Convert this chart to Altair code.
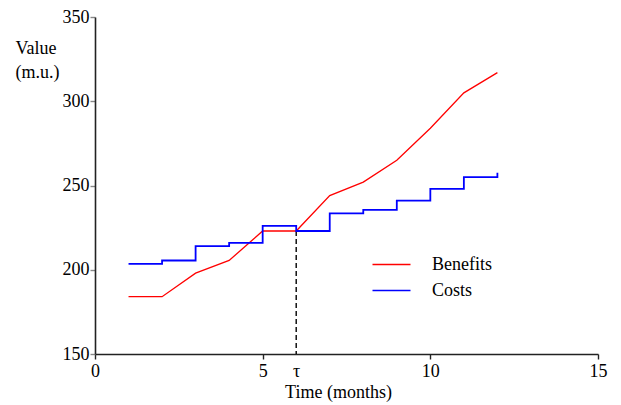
import altair as alt
import pandas as pd

months = [1, 2, 3, 4, 5, 6, 7, 8, 9, 10, 11, 12]
benefits = [184, 184, 198, 205.5, 223, 223, 244, 252, 265, 284, 305, 317]
costs = [203.5, 205.5, 214, 216, 226, 223, 233.5, 235.5, 241, 248, 255, 257.5]
tau = 6
tau_value = 223
x_ticks = [0, 5, 6, 10, 15]
y_ticks = [150, 200, 250, 300, 350]

FONT = "Liberation Serif"

df = pd.DataFrame({
    "t": months * 2,
    "v": benefits + costs,
    "series": ["Benefits"] * len(months) + ["Costs"] * len(months),
})
df_tau = pd.DataFrame({"t": [tau], "v": [tau_value], "v0": [150]})

xscale = alt.Scale(domain=[0, 15], nice=False, zero=False)
yscale = alt.Scale(domain=[150, 350], nice=False, zero=False)

xaxis = alt.Axis(
    values=x_ticks,
    labelExpr="datum.value == 6 ? 'τ' : datum.label",
    title="Time (months)",
    titleX=243,
    titlePadding=3,
    tickColor={"condition": {"test": "datum.value == 6", "value": "transparent"}, "value": "#222"},
    grid=False,
    labelPadding=3,
    labelFlush=False,
)
yaxis = alt.Axis(
    values=y_ticks,
    title=["Value", "(m.u.)"],
    titleAngle=0,
    titleAlign="left",
    titleBaseline="alphabetic",
    titleX=-80,
    titleY=36,
    titleLineHeight=24,
    grid=False,
    labelPadding=1,
    labelFlush=False,
)

dash = alt.Chart(df_tau).mark_rule(color="#000", strokeDash=[5, 3], strokeWidth=1.4).encode(
    x=alt.X("t:Q", scale=xscale, axis=xaxis),
    y=alt.Y("v:Q", scale=yscale, axis=yaxis),
    y2="v0:Q",
)
red = alt.Chart(df[df.series == "Benefits"]).mark_line(strokeWidth=1.3, interpolate="linear").encode(
    x=alt.X("t:Q", scale=xscale),
    y=alt.Y("v:Q", scale=yscale),
    color=alt.Color("series:N", scale=alt.Scale(domain=["Benefits", "Costs"], range=["#ff0000", "#0000ff"]),
                    legend=alt.Legend(title=None, orient="none", legendX=286, legendY=237,
                                      symbolType="M-2,0H2", symbolSize=361, symbolStrokeWidth=1.5,
                                      symbolFillColor="transparent",
                                      labelFont=FONT, labelFontSize=18, labelOffset=30,
                                      padding=0, rowPadding=6, labelColor="#000")),
)
blue = alt.Chart(df[df.series == "Costs"]).mark_line(strokeWidth=1.8, interpolate="step-after").encode(
    x=alt.X("t:Q", scale=xscale),
    y=alt.Y("v:Q", scale=yscale),
    color="series:N",
)

chart = alt.layer(dash, red, blue).properties(
    width=503, height=337,
    padding={"left": 87, "top": 9, "right": 15, "bottom": 50},
    autosize=alt.AutoSizeParams(type="none"),
).configure_view(stroke=None).configure_axis(
    domainColor="#222", domainWidth=1.6, tickSize=5, tickWidth=1.4,
    labelFont=FONT, labelFontSize=18, labelColor="#000",
    titleFont=FONT, titleFontSize=18, titleColor="#000", titleFontWeight="normal",
)

chart.save("out.html", embed_options={"renderer": "svg", "actions": False})
